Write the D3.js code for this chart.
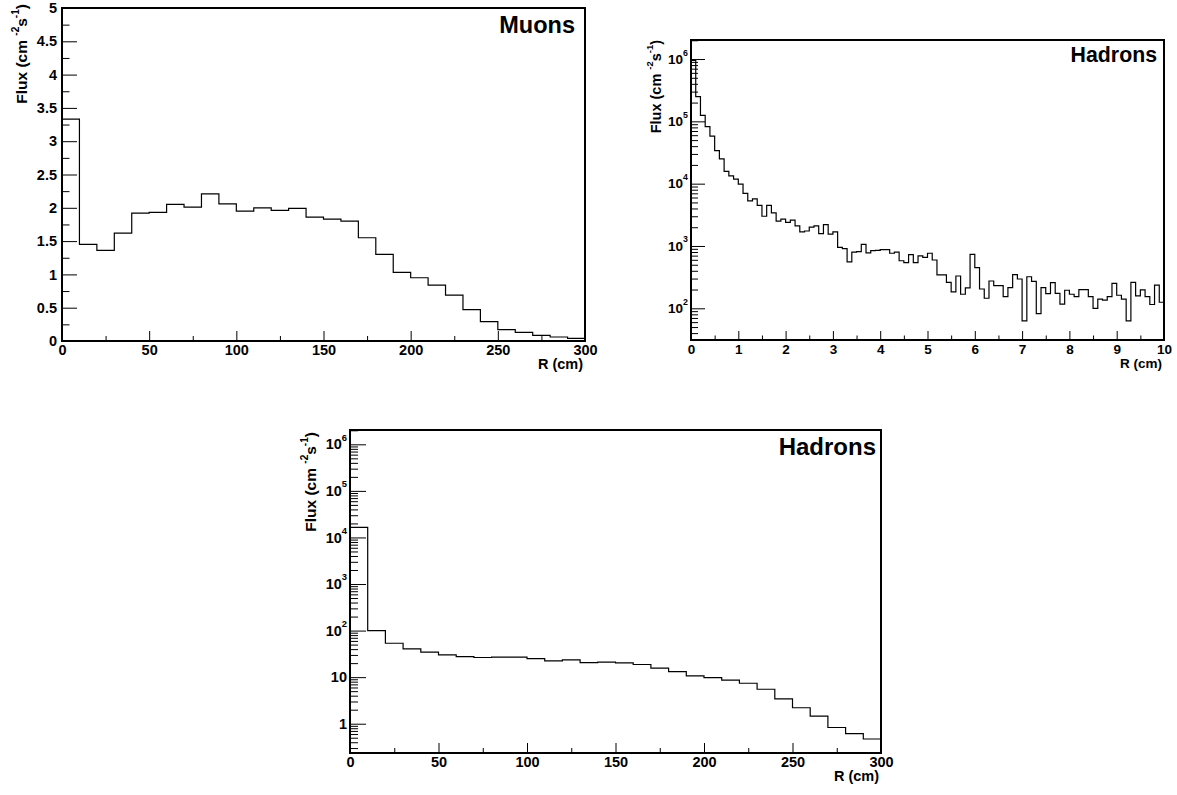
<!DOCTYPE html>
<html>
<head>
<meta charset="utf-8">
<script src="https://cdn.jsdelivr.net/npm/d3@7"></script>
<style>
  body { margin: 0; background: #fff; }
  svg { display: block; font-family: "Liberation Sans", Arial, sans-serif; font-weight: bold; }
</style>
</head>
<body>
<svg id="chart" width="1177" height="795"></svg>
<script>
// ---- data (flux per radial bin, cm^-2 s^-1) ----
// muons, 10 cm bins from 0 to 300 cm
const muonFlux = [3.33, 1.45, 1.36, 1.62, 1.92, 1.93, 2.05, 2.01, 2.21, 2.06,
  1.95, 2.00, 1.96, 1.99, 1.86, 1.83, 1.80, 1.55, 1.30, 1.03,
  0.95, 0.84, 0.69, 0.47, 0.29, 0.17, 0.13, 0.085, 0.06, 0.04];

// hadrons, 0.1 cm bins from 0 to 10 cm
const hadronFluxInner = [9.5e5, 2.5e5, 1.25e5, 8.2e4, 5.8e4, 3.4e4, 2.5e4, 1.58e4, 1.33e4, 1.18e4,
  9.8e3, 7.0e3, 5.3e3, 5.7e3, 4.5e3, 3.0e3, 4.5e3, 3.4e3, 2.5e3, 2.7e3,
  2.4e3, 2.6e3, 2.1e3, 1.68e3, 1.74e3, 2.0e3, 2.1e3, 1.58e3, 2.2e3, 1.55e3,
  1.68e3, 950, 905, 555, 795, 810, 1065, 773, 841, 851,
  871, 871, 764, 795, 580, 540, 725, 540, 692, 658,
  764, 596, 343, 343, 261, 183, 330, 168, 212, 736,
  449, 204, 145, 274, 231, 231, 154, 214, 347, 295,
  63, 321, 271, 82, 214, 172, 258, 174, 117, 195,
  168, 154, 200, 200, 154, 100, 140, 135, 154, 251,
  162, 140, 63, 261, 158, 197, 154, 115, 236, 125];

// hadrons, 10 cm bins from 0 to 300 cm
const hadronFluxOuter = [16400, 100, 53.5, 40.5, 34.3, 30.1, 27.7, 26.4, 26.9, 26.9,
  25.1, 22.4, 23.5, 20.6, 21, 20.3, 18.7, 15.6, 13.2, 10.7,
  9.8, 8.6, 7.4, 5.5, 3.4, 2.2, 1.46, 0.83, 0.61, 0.47];

// tick values
const muonYTicks = [0, 0.5, 1, 1.5, 2, 2.5, 3, 3.5, 4, 4.5, 5];
const muonYMinor = [0.25, 0.75, 1.25, 1.75, 2.25, 2.75, 3.25, 3.75, 4.25, 4.75];
const cmXTicks = [0, 50, 100, 150, 200, 250, 300];
const cmXMinor = [25, 75, 125, 175, 225, 275];
const innerXTicks = [0, 1, 2, 3, 4, 5, 6, 7, 8, 9, 10];
const innerXMinor = [0.5, 1.5, 2.5, 3.5, 4.5, 5.5, 6.5, 7.5, 8.5, 9.5];
const innerYTicks = [1e2, 1e3, 1e4, 1e5, 1e6];
const outerYTicks = [1, 10, 1e2, 1e3, 1e4, 1e5, 1e6];

const svg = d3.select("#chart");

// minor ticks of a log axis (2..9 x decade) inside the domain
function logMinor(domain) {
  const out = [];
  for (let e = Math.floor(Math.log10(domain[0])); e <= Math.ceil(Math.log10(domain[1])); e++) {
    for (let m = 2; m <= 9; m++) {
      const v = m * Math.pow(10, e);
      if (v >= domain[0] && v <= domain[1]) out.push(v);
    }
  }
  return out;
}

function drawPanel(cfg) {
  const g = svg.append("g");
  const x = d3.scaleLinear().domain(cfg.xDomain).range([cfg.left, cfg.right]);
  const y = (cfg.log ? d3.scaleLog() : d3.scaleLinear())
    .domain(cfg.yDomain).range([cfg.bottom, cfg.top]);

  const clipId = "clip-" + cfg.id;
  g.append("clipPath").attr("id", clipId).append("rect")
    .attr("x", cfg.left).attr("y", cfg.top)
    .attr("width", cfg.right - cfg.left).attr("height", cfg.bottom - cfg.top);

  // histogram outline
  const n = cfg.values.length;
  const w = (cfg.xDomain[1] - cfg.xDomain[0]) / n;
  const pts = cfg.values.map((v, i) => [cfg.xDomain[0] + i * w, v]);
  pts.push([cfg.xDomain[1], cfg.values[n - 1]]);
  const line = d3.line().x(d => x(d[0])).y(d => y(d[1])).curve(d3.curveStepAfter);
  g.append("path")
    .datum(pts)
    .attr("d", line)
    .attr("fill", "none")
    .attr("stroke", "#000")
    .attr("stroke-width", 1.2)
    .attr("clip-path", `url(#${clipId})`);

  // x axis
  const xMinor = g.append("g").attr("transform", `translate(0,${cfg.bottom})`)
    .call(d3.axisBottom(x).tickValues(cfg.xMinor).tickSize(-cfg.xTick / 2).tickFormat(""));
  const xAxis = g.append("g").attr("transform", `translate(0,${cfg.bottom})`)
    .call(d3.axisBottom(x).tickValues(cfg.xTicks).tickSize(-cfg.xTick).tickPadding(4)
      .tickFormat(d3.format("d")));

  // y axis
  const yMinorVals = cfg.log ? logMinor(cfg.yDomain) : cfg.yMinor;
  const yMinor = g.append("g").attr("transform", `translate(${cfg.left},0)`)
    .call(d3.axisLeft(y).tickValues(yMinorVals).tickSize(-cfg.yTick / 2).tickFormat(""));
  const yAxis = g.append("g").attr("transform", `translate(${cfg.left},0)`)
    .call(d3.axisLeft(y).tickValues(cfg.yTicks).tickSize(-cfg.yTick).tickPadding(cfg.log ? 3 : 5)
      .tickFormat(d => String(d)));

  [xMinor, xAxis, yMinor, yAxis].forEach(a => {
    a.attr("font-family", null).attr("font-size", cfg.fs);
    a.select(".domain").remove();
    a.selectAll(".tick line").attr("stroke", "#000").attr("stroke-width", 1);
  });

  // log labels as 10^n
  if (cfg.log) {
    yAxis.selectAll(".tick text").each(function (d) {
      const e = Math.round(Math.log10(d));
      const t = d3.select(this).text(null);
      if (e <= 1) { t.text(e === 0 ? "1" : "10"); return; }
      t.append("tspan").text("10");
      t.append("tspan").attr("font-size", cfg.fs * 0.65).attr("dy", "-0.95em").text(e);
    });
  }

  // frame
  g.append("rect")
    .attr("x", cfg.left).attr("y", cfg.top)
    .attr("width", cfg.right - cfg.left).attr("height", cfg.bottom - cfg.top)
    .attr("fill", "none").attr("stroke", "#000").attr("stroke-width", 2);

  // axis titles
  g.append("text")
    .attr("x", cfg.right - 2).attr("y", cfg.bottom + 28)
    .attr("text-anchor", "end").attr("font-size", cfg.fs)
    .text("R (cm)");

  const yt = g.append("text")
    .attr("transform", `translate(${cfg.yLabelX},${cfg.yLabelTop}) rotate(-90)`)
    .attr("text-anchor", "end").attr("font-size", cfg.yfs);
  yt.append("tspan").text("Flux (cm ");
  yt.append("tspan").attr("font-size", cfg.yfs * 0.65).attr("dy", "-0.8em").text("-2");
  yt.append("tspan").attr("dy", "0.52em").text("s");
  yt.append("tspan").attr("font-size", cfg.yfs * 0.65).attr("dy", "-0.8em").text("-1");
  yt.append("tspan").attr("dy", "0.52em").text(")");

  // panel title
  g.append("text")
    .attr("x", cfg.right - cfg.titleDx).attr("y", cfg.top + cfg.titleDy)
    .attr("text-anchor", "end").attr("font-size", cfg.titleFs)
    .text(cfg.title);
}

drawPanel({
  id: "muons", title: "Muons", values: muonFlux,
  left: 62, right: 585, top: 8, bottom: 341,
  xDomain: [0, 300], yDomain: [0, 5], log: false,
  xTicks: cmXTicks, xMinor: cmXMinor, yTicks: muonYTicks, yMinor: muonYMinor,
  xTick: 10, yTick: 15, fs: 14.5, yfs: 15.5, titleFs: 23.5, titleDx: 10, titleDy: 25,
  yLabelX: 27, yLabelTop: 4
});

drawPanel({
  id: "hin", title: "Hadrons", values: hadronFluxInner,
  left: 691, right: 1164, top: 40, bottom: 340,
  xDomain: [0, 10], yDomain: [31, 2.02e6], log: true,
  xTicks: innerXTicks, xMinor: innerXMinor, yTicks: innerYTicks,
  xTick: 9, yTick: 14, fs: 13.5, yfs: 14.5, titleFs: 21.3, titleDx: 7, titleDy: 22,
  yLabelX: 661, yLabelTop: 40
});

drawPanel({
  id: "hout", title: "Hadrons", values: hadronFluxOuter,
  left: 350, right: 881, top: 430, bottom: 753,
  xDomain: [0, 300], yDomain: [0.235, 2.03e6], log: true,
  xTicks: cmXTicks, xMinor: cmXMinor, yTicks: outerYTicks,
  xTick: 10, yTick: 16, fs: 14.5, yfs: 15.5, titleFs: 24, titleDx: 5, titleDy: 25,
  yLabelX: 316, yLabelTop: 432
});
</script>
</body>
</html>
